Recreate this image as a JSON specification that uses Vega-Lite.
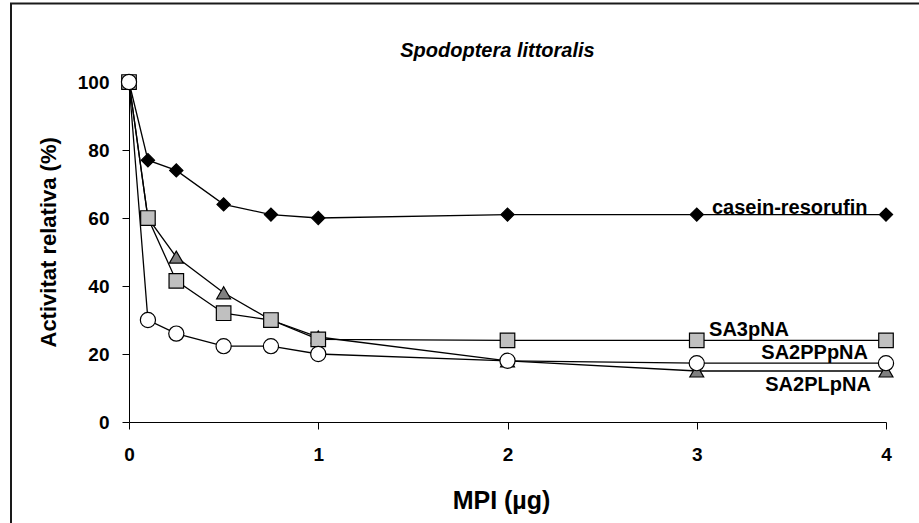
{
  "$schema": "https://vega.github.io/schema/vega-lite/v6.json",
  "width": 757,
  "height": 340,
  "autosize": {"type": "none"},
  "padding": {"left": 129, "top": 82, "right": 33, "bottom": 101},
  "background": "white",
  "config": {"view": {"stroke": null}, "font": "Liberation Sans"},
  "title": {"text": "Spodoptera littoralis", "font": "Liberation Sans", "fontSize": 20, "fontWeight": "bold", "fontStyle": "italic", "anchor": "middle", "frame": "group", "dx": -10, "offset": -59, "color": "black"},
  "datasets": {
    "series": [
      {"series": "casein-resorufin", "x": 0, "y": 100},
      {"series": "casein-resorufin", "x": 0.1, "y": 77},
      {"series": "casein-resorufin", "x": 0.25, "y": 74},
      {"series": "casein-resorufin", "x": 0.5, "y": 64},
      {"series": "casein-resorufin", "x": 0.75, "y": 61},
      {"series": "casein-resorufin", "x": 1, "y": 60},
      {"series": "casein-resorufin", "x": 2, "y": 61},
      {"series": "casein-resorufin", "x": 3, "y": 61},
      {"series": "casein-resorufin", "x": 4, "y": 61},
      {"series": "SA2PLpNA", "x": 0, "y": 100},
      {"series": "SA2PLpNA", "x": 0.1, "y": 60},
      {"series": "SA2PLpNA", "x": 0.25, "y": 48.5},
      {"series": "SA2PLpNA", "x": 0.5, "y": 38},
      {"series": "SA2PLpNA", "x": 0.75, "y": 30},
      {"series": "SA2PLpNA", "x": 1, "y": 25},
      {"series": "SA2PLpNA", "x": 2, "y": 18},
      {"series": "SA2PLpNA", "x": 3, "y": 15},
      {"series": "SA2PLpNA", "x": 4, "y": 15},
      {"series": "SA3pNA", "x": 0, "y": 100},
      {"series": "SA3pNA", "x": 0.1, "y": 60},
      {"series": "SA3pNA", "x": 0.25, "y": 41.5},
      {"series": "SA3pNA", "x": 0.5, "y": 32},
      {"series": "SA3pNA", "x": 0.75, "y": 30},
      {"series": "SA3pNA", "x": 1, "y": 24.3},
      {"series": "SA3pNA", "x": 2, "y": 24},
      {"series": "SA3pNA", "x": 3, "y": 24},
      {"series": "SA3pNA", "x": 4, "y": 24},
      {"series": "SA2PPpNA", "x": 0, "y": 100},
      {"series": "SA2PPpNA", "x": 0.1, "y": 30},
      {"series": "SA2PPpNA", "x": 0.25, "y": 26},
      {"series": "SA2PPpNA", "x": 0.5, "y": 22.3},
      {"series": "SA2PPpNA", "x": 0.75, "y": 22.3},
      {"series": "SA2PPpNA", "x": 1, "y": 20},
      {"series": "SA2PPpNA", "x": 2, "y": 18},
      {"series": "SA2PPpNA", "x": 3, "y": 17.3},
      {"series": "SA2PPpNA", "x": 4, "y": 17.3}
    ],
    "labelsLeft": [
      {"label": "casein-resorufin", "x": 3.08, "y": 63},
      {"label": "SA3pNA", "x": 3.065, "y": 27}
    ],
    "labelsRight": [
      {"label": "SA2PPpNA", "x": 3.905, "y": 20.3},
      {"label": "SA2PLpNA", "x": 3.92, "y": 10.9}
    ]
  },
  "layer": [
    {
      "data": {"values": [{}]},
      "mark": {"type": "rect", "fill": "white", "fillOpacity": 0, "stroke": "#1a1a1a", "strokeWidth": 2},
      "encoding": {
        "x": {"datum": -0.6235, "type": "quantitative", "scale": {"domain": [0, 4], "nice": false, "zero": false}},
        "x2": {"datum": 5},
        "y": {"datum": 123.1, "type": "quantitative", "scale": {"domain": [0, 100], "nice": false}},
        "y2": {"datum": -40}
      }
    },
    {
      "data": {"name": "series"},
      "mark": {"type": "line", "color": "black", "strokeWidth": 1.3},
      "encoding": {
        "x": {"field": "x", "type": "quantitative", "scale": {"domain": [0, 4], "nice": false, "zero": false},
          "axis": {"values": [0, 1, 2, 3, 4], "format": "d", "grid": false, "tickSize": 7, "tickColor": "black", "domainColor": "black", "labelFlush": false, "labelOverlap": false,
            "labelFont": "Liberation Sans", "labelFontSize": 19, "labelFontWeight": "bold", "labelColor": "black", "labelPadding": 16,
            "title": "MPI (µg)", "titleFont": "Liberation Sans", "titleFontSize": 25, "titleFontWeight": "bold", "titleColor": "black",
            "titleX": 372, "titleY": 86, "titleAlign": "center", "titleBaseline": "alphabetic"}},
        "y": {"field": "y", "type": "quantitative", "scale": {"domain": [0, 100], "nice": false},
          "axis": {"values": [0, 20, 40, 60, 80, 100], "format": "d", "grid": false, "tickSize": 7, "tickColor": "black", "domainColor": "black", "labelOverlap": false, "labelFlush": false,
            "labelFont": "Liberation Sans", "labelFontSize": 19, "labelFontWeight": "bold", "labelColor": "black", "labelPadding": 13,
            "title": "Activitat relativa (%)", "titleFont": "Liberation Sans", "titleFontSize": 22, "titleFontWeight": "bold", "titleColor": "black",
            "titleX": -74, "titleY": 265, "titleAngle": -90, "titleAlign": "left", "titleBaseline": "alphabetic"}},
        "detail": {"field": "series", "type": "nominal"}
      }
    },
    {
      "data": {"name": "series"},
      "mark": {"type": "point", "filled": true, "stroke": "black", "strokeWidth": 1.2, "opacity": 1},
      "encoding": {
        "x": {"field": "x", "type": "quantitative", "scale": {"domain": [0, 4], "nice": false, "zero": false}},
        "y": {"field": "y", "type": "quantitative", "scale": {"domain": [0, 100], "nice": false}},
        "shape": {"field": "series", "type": "nominal", "scale": {"domain": ["casein-resorufin", "SA2PLpNA", "SA3pNA", "SA2PPpNA"], "range": ["diamond", "triangle-up", "square", "circle"]}, "legend": null},
        "fill": {"field": "series", "type": "nominal", "scale": {"domain": ["casein-resorufin", "SA2PLpNA", "SA3pNA", "SA2PPpNA"], "range": ["black", "#808080", "#C0C0C0", "white"]}, "legend": null},
        "size": {"field": "series", "type": "nominal", "scale": {"domain": ["casein-resorufin", "SA2PLpNA", "SA3pNA", "SA2PPpNA"], "range": [175, 230, 200, 190]}, "legend": null}
      }
    },
    {
      "data": {"name": "labelsLeft"},
      "mark": {"type": "text", "align": "left", "baseline": "middle", "font": "Liberation Sans", "fontSize": 20, "fontWeight": "bold", "color": "black"},
      "encoding": {
        "x": {"field": "x", "type": "quantitative", "scale": {"domain": [0, 4], "nice": false, "zero": false}},
        "y": {"field": "y", "type": "quantitative", "scale": {"domain": [0, 100], "nice": false}},
        "text": {"field": "label"}
      }
    },
    {
      "data": {"name": "labelsRight"},
      "mark": {"type": "text", "align": "right", "baseline": "middle", "font": "Liberation Sans", "fontSize": 20, "fontWeight": "bold", "color": "black"},
      "encoding": {
        "x": {"field": "x", "type": "quantitative", "scale": {"domain": [0, 4], "nice": false, "zero": false}},
        "y": {"field": "y", "type": "quantitative", "scale": {"domain": [0, 100], "nice": false}},
        "text": {"field": "label"}
      }
    }
  ]
}
